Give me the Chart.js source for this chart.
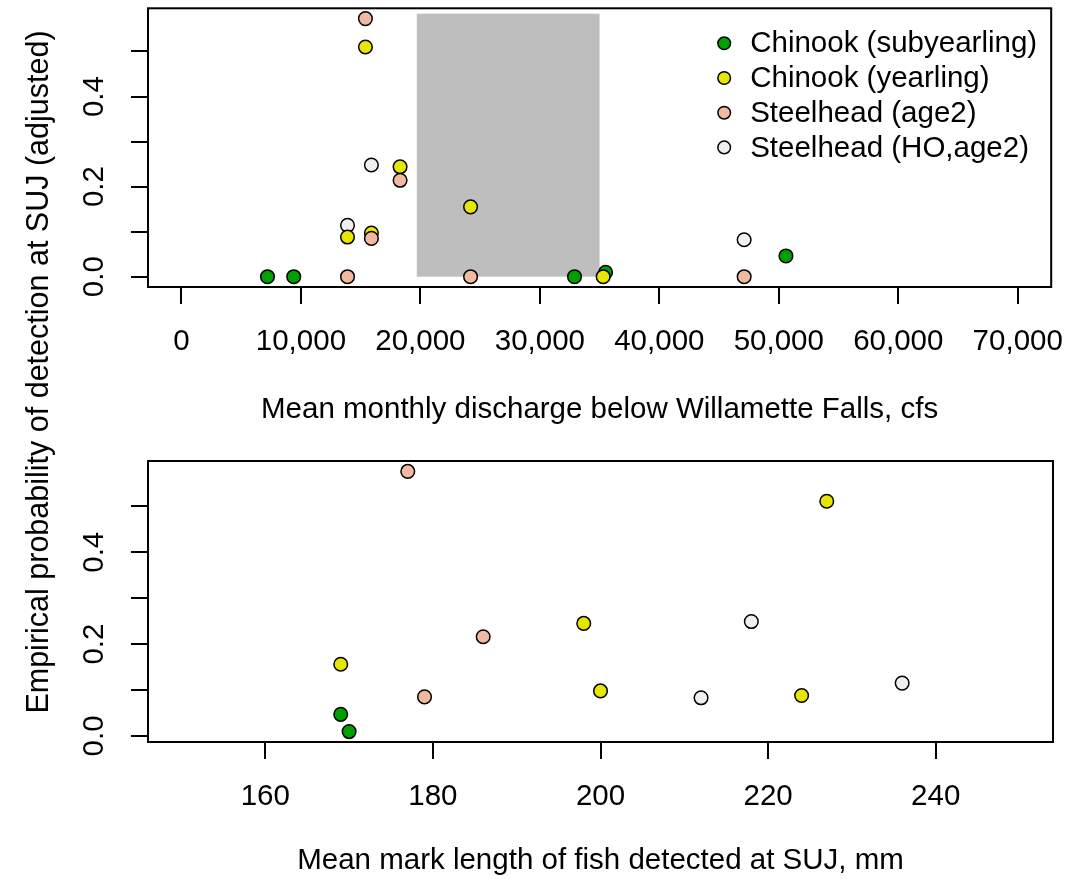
<!DOCTYPE html>
<html>
<head>
<meta charset="utf-8">
<script src="https://cdn.jsdelivr.net/npm/chart.js@4.4.0/dist/chart.umd.min.js"></script>
<style>
  body { margin: 0; background: #fff; }
  #wrap { position: relative; width: 1084px; height: 879px; background: #fff; }
  #top, #bottom { position: absolute; left: 0; }
  #top { top: 0; }
  #bottom { top: 440px; }
  #ytitle {
    position: absolute; left: -363px; top: 357px; width: 800px; height: 30px;
    line-height: 30px; text-align: center; white-space: nowrap;
    font-family: 'Liberation Sans', Arial, sans-serif; font-size: 30.5px; color: #000;
    transform: rotate(-90deg);
  }
</style>
</head>
<body>
<div id="wrap">
  <canvas id="top" width="1084" height="440"></canvas>
  <canvas id="bottom" width="1084" height="439"></canvas>
  <div id="ytitle">Empirical probability of detection at SUJ (adjusted)</div>
</div>
<script>
// series names and fills
const speciesNames = ['Chinook (subyearling)', 'Chinook (yearling)', 'Steelhead (age2)', 'Steelhead (HO,age2)'];
const speciesFill = ['#00a000', '#e6e600', '#f2b9a1', '#f0f0f0'];

// top panel: mean monthly discharge (cfs) vs detection probability
const subDischarge = [7200, 9400, 32900, 35500, 50600];
const subDetect    = [0, 0, 0, 0.0095, 0.046];
const yrDischarge  = [13900, 15400, 15900, 18300, 24200, 35300];
const yrDetect     = [0.088, 0.510, 0.097, 0.244, 0.155, 0];
const shDischarge  = [13900, 15400, 15900, 18300, 24200, 47100];
const shDetect     = [0, 0.573, 0.085, 0.214, 0, 0];
const hoDischarge  = [13900, 15900, 47100];
const hoDetect     = [0.114, 0.248, 0.082];

// bottom panel: mean mark length (mm) vs detection probability
const subLength = [169, 170];
const subLenDetect = [0.047, 0.0094];
const yrLength = [224, 227, 200, 198, 169];
const yrLenDetect = [0.088, 0.511, 0.098, 0.245, 0.156];
const shLength = [177, 179, 186];
const shLenDetect = [0.576, 0.085, 0.216];
const hoLength = [236, 218, 212];
const hoLenDetect = [0.115, 0.249, 0.083];

// shaded discharge window
const shadeDischarge = [19700, 35000];
const shadeDetect = [0, 0.584];

// axis ticks
const dischargeTicks = [0, 10000, 20000, 30000, 40000, 50000, 60000, 70000];
const lengthTicks = [160, 180, 200, 220, 240];
const probTicks = [0, 0.1, 0.2, 0.3, 0.4, 0.5];
const probLabels = ['0.0', '', '0.2', '', '0.4', ''];
const dischargeLimits = [0, 70000];
const lengthLimits = [150, 250];

const FONT = "'Liberation Sans', Arial, sans-serif";
Chart.defaults.font.family = FONT;
Chart.defaults.color = '#000';

// R style axis range: 4% padding either side
function rRange(lo, hi) {
    const d = (hi - lo) * 0.04;
    return [lo - d, hi + d];
}

function zip(xs, ys) {
    return xs.map((x, i) => ({x: x, y: ys[i]}));
}

// red over yellow over white over green, as in the figure
const drawOrder = [3, 1, 0, 2];

function buildDatasets(xs, ys) {
    return xs.map((x, i) => ({
        label: speciesNames[i],
        data: zip(x, ys[i]),
        backgroundColor: speciesFill[i],
        borderColor: '#000',
        borderWidth: 1.5,
        pointRadius: 6.8,
        pointHoverRadius: 6.8,
        order: drawOrder[i]
    }));
}

const framePlugin = {
    id: 'frame',
    afterDraw(chart) {
        const a = chart.chartArea, ctx = chart.ctx;
        ctx.save();
        ctx.strokeStyle = '#000';
        ctx.lineWidth = 2;
        ctx.strokeRect(a.left, a.top, a.right - a.left, a.bottom - a.top);
        // rotated y tick labels, like R
        const y = chart.scales.y;
        ctx.font = '29.5px ' + FONT;
        ctx.fillStyle = '#000';
        ctx.textAlign = 'center';
        ctx.textBaseline = 'alphabetic';
        probTicks.forEach((v, i) => {
            if (!probLabels[i]) return;
            ctx.save();
            ctx.translate(103, y.getPixelForValue(v));
            ctx.rotate(-Math.PI / 2);
            ctx.fillText(probLabels[i], 0, 0);
            ctx.restore();
        });
        ctx.restore();
    }
};

const shadePlugin = {
    id: 'shade',
    beforeDatasetsDraw(chart) {
        const x = chart.scales.x, y = chart.scales.y, ctx = chart.ctx;
        const x0 = x.getPixelForValue(shadeDischarge[0]);
        const x1 = x.getPixelForValue(shadeDischarge[1]);
        const y0 = y.getPixelForValue(shadeDetect[0]);
        const y1 = y.getPixelForValue(shadeDetect[1]);
        ctx.save();
        ctx.fillStyle = '#bebebe';
        ctx.fillRect(x0, y1, x1 - x0, y0 - y1);
        ctx.restore();
    }
};

const legendPlugin = {
    id: 'rlegend',
    afterDraw(chart) {
        const a = chart.chartArea, ctx = chart.ctx;
        const cx = a.right - 327, tx = a.right - 301;
        ctx.save();
        ctx.font = '29.5px ' + FONT;
        ctx.textAlign = 'left';
        ctx.textBaseline = 'middle';
        speciesNames.forEach((name, i) => {
            const cy = a.top + 35 + i * 34.7;
            ctx.beginPath();
            ctx.arc(cx, cy, 6.3, 0, Math.PI * 2);
            ctx.fillStyle = speciesFill[i];
            ctx.fill();
            ctx.lineWidth = 1.5;
            ctx.strokeStyle = '#000';
            ctx.stroke();
            ctx.fillStyle = '#000';
            ctx.fillText(name, tx, cy + 1);
        });
        ctx.restore();
    }
};

function makeChart(id, opts) {
    const el = document.getElementById(id);
    const xr = rRange(opts.xLim[0], opts.xLim[1]);
    const yr = rRange(opts.yLim[0], opts.yLim[1]);
    const tickGrid = {
        display: true, drawOnChartArea: false, drawTicks: true,
        tickLength: 17, color: '#000', lineWidth: 2
    };
    return new Chart(el, {
        type: 'scatter',
        data: {datasets: opts.datasets},
        options: {
            responsive: false,
            animation: false,
            events: [],
            layout: {padding: {top: opts.boxTop, right: 31, left: 0, bottom: 0}},
            plugins: {legend: {display: false}, tooltip: {enabled: false}},
            scales: {
                x: {
                    type: 'linear', min: xr[0], max: xr[1],
                    afterBuildTicks: s => { s.ticks = opts.xTicks.map(v => ({value: v})); },
                    afterFit: s => { s.height = el.height - opts.boxBottom; },
                    grid: tickGrid,
                    border: {display: false},
                    ticks: {
                        font: {size: 29.5}, padding: 20, maxRotation: 0,
                        callback: v => v.toLocaleString('en-US')
                    },
                    title: {display: true, text: opts.xTitle, font: {size: 29.5}, padding: {top: 0, bottom: opts.titlePad}}
                },
                y: {
                    type: 'linear', min: yr[0], max: yr[1],
                    afterBuildTicks: s => { s.ticks = probTicks.map(v => ({value: v})); },
                    afterFit: s => { s.width = 148; },
                    grid: tickGrid,
                    border: {display: false},
                    ticks: {display: false}
                }
            }
        },
        plugins: opts.plugins
    });
}

const topY = [].concat(subDetect, yrDetect, shDetect, hoDetect);
makeChart('top', {
    datasets: buildDatasets([subDischarge, yrDischarge, shDischarge, hoDischarge],
                            [subDetect, yrDetect, shDetect, hoDetect]),
    xLim: dischargeLimits,
    yLim: [Math.min(...topY), Math.max(...topY)],
    xTicks: dischargeTicks,
    xTitle: 'Mean monthly discharge below Willamette Falls, cfs',
    boxTop: 7, boxBottom: 287, titlePad: 12,
    plugins: [shadePlugin, framePlugin, legendPlugin]
});

const botY = [].concat(subLenDetect, yrLenDetect, shLenDetect, hoLenDetect);
makeChart('bottom', {
    datasets: buildDatasets([subLength, yrLength, shLength, hoLength],
                            [subLenDetect, yrLenDetect, shLenDetect, hoLenDetect]),
    xLim: lengthLimits,
    yLim: [Math.min(...botY), Math.max(...botY)],
    xTicks: lengthTicks,
    xTitle: 'Mean mark length of fish detected at SUJ, mm',
    boxTop: 21, boxBottom: 302, titlePad: 0,
    plugins: [framePlugin]
});
</script>
</body>
</html>
